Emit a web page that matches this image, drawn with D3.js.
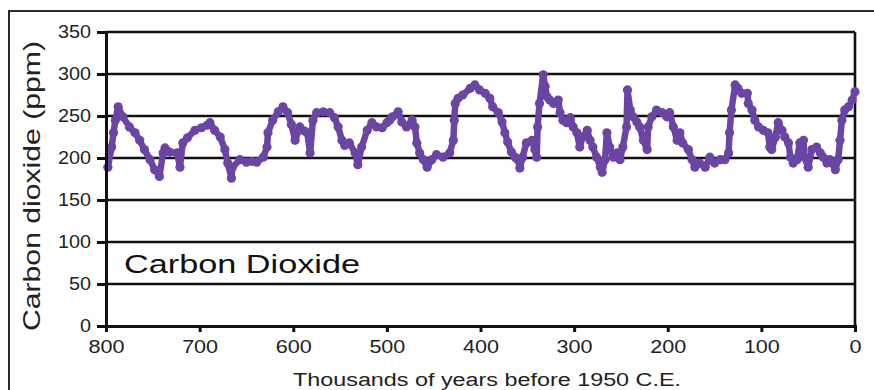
<!DOCTYPE html>
<meta charset="utf-8">
<style>
    body {
        margin: 0;
        background: #fff;
    }

    svg {
        font-family: "Liberation Sans", Arial, sans-serif;
    }

    .grid line {
        stroke: #111;
        stroke-width: 2.6;
    }
</style>
<body>
<script src="https://cdn.jsdelivr.net/npm/d3@7"></script>
<script>
    // CO2 record (thousands of years BP, ppm)
    const ages = [798, 794, 792, 790, 787, 782, 775, 769, 764, 759, 753, 748, 743, 739, 737, 732, 724, 721, 718, 713,
        705, 698, 692, 689, 684, 678, 673, 670, 666, 665, 657, 650, 644, 639, 632, 628, 627, 622, 616, 611,
        606, 602, 598, 593, 588, 585, 582, 579, 575, 568, 561, 556, 552, 548, 545, 540, 534, 531, 527, 521,
        516, 511, 505, 500, 497, 494, 488, 484, 479, 473, 470, 468, 465, 461, 457, 452, 447, 440, 433, 429,
        428, 427, 424, 419, 411, 406, 401, 395, 390, 387, 381, 377, 374, 371, 367, 363, 360, 358, 355, 351,
        345, 342, 340, 339, 337, 333, 331, 329, 326, 322, 317, 315, 312, 308, 304, 301, 297, 294, 291, 286,
        283, 280, 276, 272, 270, 267, 265, 262, 258, 254, 251, 248, 244, 243, 240, 237, 233, 230, 226, 222,
        221, 217, 212, 206, 201, 198, 194, 190, 187, 184, 178, 174, 171, 166, 160, 155, 150, 144, 139, 135,
        134, 132, 128, 125, 121, 115, 114, 110, 107, 103, 98, 93, 91, 89, 85, 82, 78, 75, 71, 69,
        66, 62, 59, 55, 54, 50, 46, 41, 37, 34, 30, 27, 21, 18, 16, 14, 11, 7, 3, 0];
    const co2 = [189, 213, 230, 245, 261, 249, 237, 230, 221, 210, 198, 186, 178, 206, 212, 207, 206, 189, 218, 224,
        233, 236, 239, 242, 233, 225, 210, 194, 176, 189, 198, 195, 196, 195, 201, 213, 230, 245, 255, 261,
        254, 240, 221, 237, 232, 230, 206, 245, 254, 255, 254, 248, 237, 221, 215, 218, 206, 192, 213, 233,
        242, 237, 236, 242, 245, 249, 255, 243, 237, 245, 237, 218, 206, 198, 189, 198, 204, 201, 206, 221,
        245, 265, 271, 275, 283, 287, 281, 277, 271, 261, 254, 243, 230, 219, 207, 201, 198, 188, 201, 218,
        221, 210, 201, 237, 265, 299, 285, 273, 269, 265, 269, 254, 245, 242, 248, 237, 230, 213, 225, 233,
        221, 213, 201, 189, 183, 198, 230, 213, 201, 206, 198, 213, 237, 281, 257, 249, 243, 237, 221, 210,
        237, 249, 257, 254, 249, 254, 237, 221, 230, 218, 210, 198, 189, 194, 189, 201, 194, 198, 198, 206,
        230, 257, 287, 283, 277, 277, 265, 257, 245, 237, 233, 230, 213, 210, 225, 242, 233, 225, 218, 201,
        194, 198, 218, 221, 201, 189, 210, 213, 206, 201, 194, 198, 186, 198, 221, 245, 257, 261, 269, 279];

    const yTicks = [0, 50, 100, 150, 200, 250, 300, 350];
    const xTicks = [800, 700, 600, 500, 400, 300, 200, 100, 0];

    const yTitle = "Carbon dioxide (ppm)";
    const xTitle = "Thousands of years before 1950 C.E.";
    const panelLabel = "Carbon Dioxide";

    const width = 874;
    const height = 390;
    const plotLeft = 106, plotRight = 855, plotTop = 32, plotBottom = 326;
    const purple = "#6a45a4";

    const svg = d3.select("body")
        .append("svg")
        .attr("width", width)
        .attr("height", height);

    // outer frame, runs off the right and bottom edges
    svg.append("rect")
        .attr("x", 9)
        .attr("y", 11)
        .attr("width", 900)
        .attr("height", 420)
        .attr("fill", "#fff")
        .attr("stroke", "#2a2a2a")
        .attr("stroke-width", 2);

    const x = d3.scaleLinear().domain([800, 0]).range([plotLeft, plotRight]);
    const y = d3.scaleLinear().domain([0, 350]).range([plotBottom, plotTop]);

    // horizontal grid
    svg.append("g")
        .attr("class", "grid")
        .selectAll("line")
        .data(yTicks.filter(d => d > 0))
        .enter().append("line")
        .attr("x1", plotLeft)
        .attr("x2", plotRight)
        .attr("y1", d => y(d))
        .attr("y2", d => y(d));

    // right border of plot
    svg.append("line")
        .attr("x1", plotRight).attr("x2", plotRight)
        .attr("y1", plotTop).attr("y2", plotBottom)
        .attr("stroke", "#111")
        .attr("stroke-width", 2.6);

    svg.append("text")
        .attr("x", 124)
        .attr("y", 273)
        .attr("font-size", 26)
        .attr("fill", "#111")
        .attr("textLength", 236)
        .attr("lengthAdjust", "spacingAndGlyphs")
        .text(panelLabel);

    // the record: joined dots
    const pts = ages.map((a, i) => [a, co2[i]]);

    svg.append("path")
        .datum(pts)
        .attr("fill", "none")
        .attr("stroke", purple)
        .attr("stroke-width", 6.5)
        .attr("stroke-linejoin", "round")
        .attr("stroke-linecap", "round")
        .attr("d", d3.line().x(d => x(d[0])).y(d => y(d[1])));

    svg.append("g")
        .selectAll("circle")
        .data(pts)
        .enter().append("circle")
        .attr("cx", d => x(d[0]))
        .attr("cy", d => y(d[1]))
        .attr("r", 4.6)
        .attr("fill", purple);

    // axes
    const yAxis = d3.axisLeft(y).tickValues(yTicks).tickSize(9).tickPadding(6);
    const gY = svg.append("g")
        .attr("transform", "translate(" + plotLeft + ",0)")
        .call(yAxis);
    gY.select(".domain").attr("stroke", "#111").attr("stroke-width", 3);
    gY.selectAll(".tick line").attr("stroke", "#111").attr("stroke-width", 3);
    gY.selectAll(".tick text")
        .attr("font-family", "'Liberation Sans', Arial, sans-serif")
        .attr("font-size", 18)
        .attr("fill", "#222")
        .attr("textLength", d => String(d).length * 11)
        .attr("lengthAdjust", "spacingAndGlyphs");

    const xAxis = d3.axisBottom(x).tickValues(xTicks).tickSize(6).tickPadding(8);
    const gX = svg.append("g")
        .attr("transform", "translate(0," + plotBottom + ")")
        .call(xAxis);
    gX.select(".domain").attr("stroke", "#111").attr("stroke-width", 3);
    gX.selectAll(".tick line").attr("stroke", "#111").attr("stroke-width", 3);
    gX.selectAll(".tick text")
        .attr("font-family", "'Liberation Sans', Arial, sans-serif")
        .attr("font-size", 19)
        .attr("fill", "#222")
        .attr("textLength", d => String(d).length * 12)
        .attr("lengthAdjust", "spacingAndGlyphs");

    // titles
    svg.append("text")
        .attr("transform", "translate(40," + 186 + ") rotate(-90)")
        .attr("text-anchor", "middle")
        .attr("font-size", 24)
        .attr("fill", "#222")
        .attr("textLength", 290)
        .attr("lengthAdjust", "spacingAndGlyphs")
        .text(yTitle);

    svg.append("text")
        .attr("x", 487)
        .attr("y", 386)
        .attr("text-anchor", "middle")
        .attr("font-size", 18)
        .attr("fill", "#222")
        .attr("textLength", 388)
        .attr("lengthAdjust", "spacingAndGlyphs")
        .text(xTitle);
</script>
</body>
</html>
